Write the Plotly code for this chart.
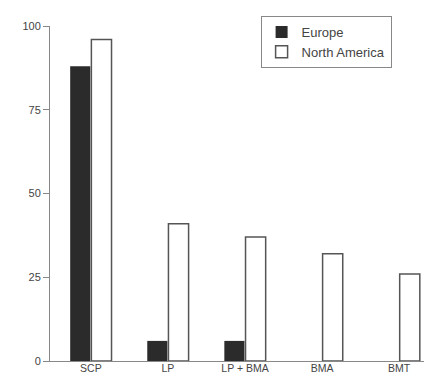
import plotly.graph_objects as go

categories = ["SCP", "LP", "LP + BMA", "BMA", "BMT"]
europe = [88, 6, 6, 0, 0]
north_america = [96, 41, 37, 32, 26]
y_ticks = [0, 25, 50, 75, 100]

fig = go.Figure()
fig.add_trace(go.Bar(
    x=categories, y=europe, name="Europe",
    marker=dict(color="#2b2b2b", line=dict(color="#2b2b2b", width=0)),
))
fig.add_trace(go.Bar(
    x=categories, y=north_america, name="North America",
    marker=dict(color="white", line=dict(color="#555555", width=1.5)),
))

fig.update_layout(
    width=432, height=375,
    margin=dict(l=42, r=0, t=18, b=22),
    paper_bgcolor="white", plot_bgcolor="white",
    barmode="group", bargap=0.45, bargroupgap=0.05,
    font=dict(family="Liberation Sans, Arial, sans-serif", size=11, color="#444444"),
    showlegend=True,
    legend=dict(
        x=0.54, y=1.03, xanchor="left", yanchor="top",
        bordercolor="#888888", borderwidth=1, bgcolor="white",
        font=dict(size=13, color="#444444"),
        tracegroupgap=0,
    ),
    xaxis=dict(
        range=[-0.53, 4.53], showline=True, linecolor="#888888", linewidth=1,
        ticks="", showgrid=False, tickfont=dict(size=10.5), ticklabelstandoff=-3,
    ),
    yaxis=dict(
        range=[0, 100], tickvals=y_ticks, showline=True, linecolor="#888888",
        linewidth=1, ticks="outside", ticklen=6, tickcolor="#888888",
        showgrid=False, zeroline=False, tickfont=dict(size=11),
    ),
)

fig.write_html("out.html")
